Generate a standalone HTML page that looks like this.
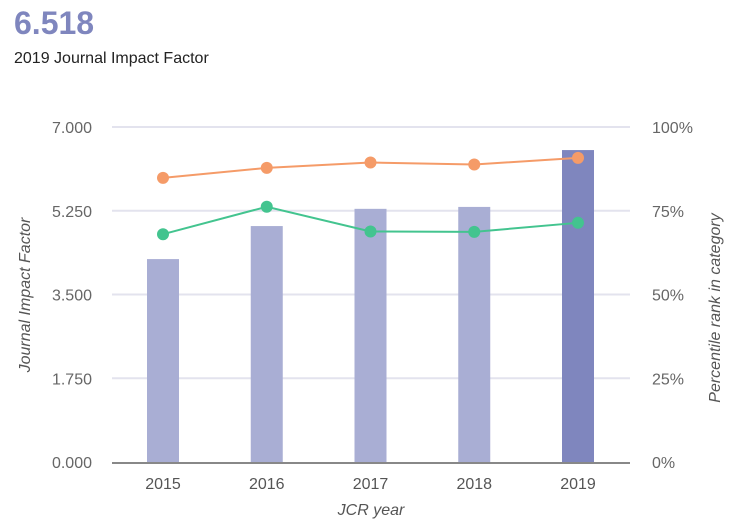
<!DOCTYPE html>
<html><head><meta charset="utf-8"><style>
body{margin:0;background:#fff;width:735px;height:527px;overflow:hidden;font-family:"Liberation Sans",sans-serif}
#big{position:absolute;left:14px;top:5px;font-size:32px;font-weight:bold;color:#7f86be}
#sub{position:absolute;left:14px;top:50px;font-size:16px;color:#222}
svg{position:absolute;left:0;top:0}
</style></head><body>
<div id="big">6.518</div>
<div id="sub">2019 Journal Impact Factor</div>
<svg id="c" width="735" height="527"></svg>
<script>
const years=["2015","2016","2017","2018","2019"];
const jif=[4.24,4.93,5.29,5.33,6.518];
const pctOrange=[84.8,87.8,89.4,88.8,90.8];
const pctGreen=[68.0,76.2,68.8,68.7,71.4];
const leftTicks=["0.000","1.750","3.500","5.250","7.000"];
const rightTicks=["0%","25%","50%","75%","100%"];
const NS="http://www.w3.org/2000/svg",svg=document.getElementById('c');
const x0=112,x1=630,yTop=127,yBot=462,yMax=7;
const xs=i=>163+i*103.75;
const yL=v=>yBot-(v/yMax)*(yBot-yTop);
const yR=p=>yBot-(p/100)*(yBot-yTop);
function mk(t,a,txt){const e=document.createElementNS(NS,t);for(const k in a)e.setAttribute(k,a[k]);if(txt!=null)e.textContent=txt;svg.appendChild(e);return e;}
leftTicks.forEach((t,i)=>{const v=i*1.75,y=yL(v);
 if(i>0){const g=mk('line',{x1:x0,x2:x1,y1:y,y2:y,stroke:'#e3e3ee','stroke-width':2});
 
 }
 const l=mk('text',{x:92,y:y+6,'text-anchor':'end','font-size':16,fill:'#666'},t);
 
 
 const r=mk('text',{x:652,y:y+6,'font-size':16,fill:'#666'},rightTicks[i]);
 
 });
years.forEach((yr,i)=>{const b=mk('rect',{x:xs(i)-16,y:yL(jif[i]),width:32,height:yBot-yL(jif[i]),fill:i==4?'#7f86be':'#a9aed4'});
 
 
 const t=mk('text',{x:xs(i),y:489,'text-anchor':'middle','font-size':16,fill:'#555'},yr);
 
 });
const ax=mk('line',{x1:x0,x2:x1,y1:yBot+1,y2:yBot+1,stroke:'#888','stroke-width':2});


function series(arr,col,name){const p=mk('polyline',{points:arr.map((v,i)=>xs(i)+','+yR(v)).join(' '),fill:'none',stroke:col,'stroke-width':2});
 
 
 arr.forEach((v,i)=>{const c=mk('circle',{cx:xs(i),cy:yR(v),r:6,fill:col});
 
 });}
series(pctOrange,'#f59b68','orange-percentile');
series(pctGreen,'#43c48f','green-percentile');
const xt=mk('text',{x:371,y:515,'text-anchor':'middle','font-size':16,'font-style':'italic',fill:'#555'},'JCR year');


const lt=mk('text',{x:0,y:0,'text-anchor':'middle','font-size':16,'font-style':'italic',fill:'#555',transform:'translate(30,295) rotate(-90)'},'Journal Impact Factor');


const rt=mk('text',{x:0,y:0,'text-anchor':'middle','font-size':16,'font-style':'italic',fill:'#555',transform:'translate(720,308) rotate(-90)'},'Percentile rank in category');


</script>
</body></html>
